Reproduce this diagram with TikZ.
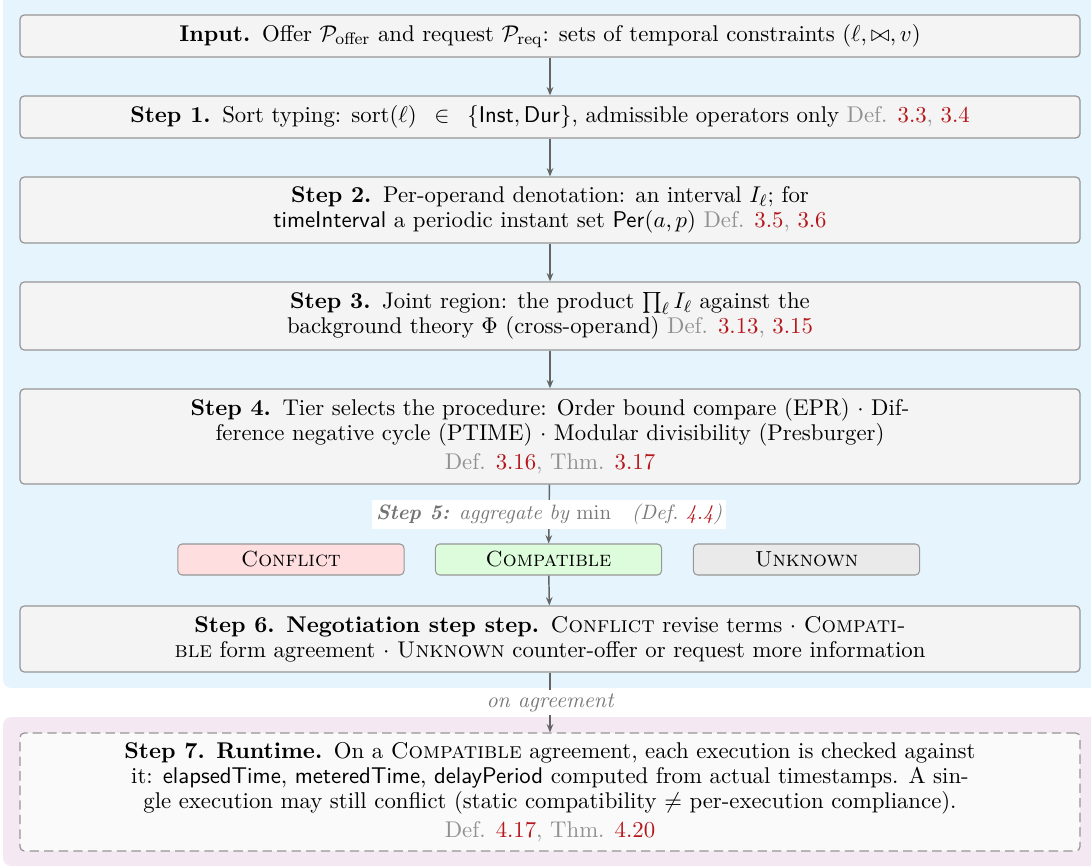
\documentclass[tikz,border=0pt]{standalone}
\usetikzlibrary{arrows.meta}
\definecolor{bgblue}{RGB}{230,245,253}
\definecolor{bgpurple}{RGB}{244,232,243}
\definecolor{boxfill}{RGB}{244,244,244}
\definecolor{boxdraw}{RGB}{150,150,150}
\definecolor{refred}{RGB}{182,22,26}
\definecolor{refgray}{RGB}{145,145,145}
\definecolor{labgray}{RGB}{120,120,120}
\definecolor{arrcol}{RGB}{100,100,100}
\definecolor{cfill}{RGB}{255,222,224}
\definecolor{kfill}{RGB}{220,252,220}
\definecolor{ufill}{RGB}{234,234,234}
\definecolor{rtfill}{RGB}{250,250,250}
\newcommand{\rref}[1]{\textcolor{refred}{#1}}
\newcommand{\gtx}[1]{\textcolor{refgray}{#1}}
\begin{document}
\begin{tikzpicture}[x=0.4808pt,y=-0.4808pt,
  stepbox/.style={draw=boxdraw, fill=boxfill, rounded corners=2pt, line width=0.6pt, minimum width=509.6pt, align=center, inner sep=2pt, font=\fontsize{10.95}{12}\selectfont},
  resbox/.style={draw=boxdraw, rounded corners=2pt, line width=0.5pt, minimum width=108.7pt, minimum height=14.9pt, inner sep=1pt, font=\fontsize{10.5}{12}\selectfont},
  arr/.style={draw=arrcol, line width=0.7pt, -{Stealth[length=4pt,width=3.2pt]}},
  lab/.style={fill=white, inner sep=1.5pt, text=labgray},
]
\useasboundingbox (0,0) rectangle (1091,867);
\clip (0,0) rectangle (1091,867);
\fill[bgblue, rounded corners=4pt] (3,-20) rectangle (1120,688);
\fill[bgpurple, rounded corners=4pt] (3,717) rectangle (1120,866);

\node[stepbox, minimum height=20.2pt] (in) at (550,36)
  {\textbf{Input. }Offer $\mathcal{P}_{\mathrm{offer}}$ and request $\mathcal{P}_{\mathrm{req}}$: sets of temporal constraints $(\ell,\bowtie,v)$};
\node[stepbox, minimum height=20.2pt] (s1) at (550,117)
  {\textbf{Step 1. }Sort typing: $\mathrm{sort}(\ell)\enspace\in\enspace\{\mathsf{Inst},\mathsf{Dur}\}$, admissible operators only \gtx{Def.} \rref{3.3}\gtx{,} \rref{3.4}};
\node[stepbox, minimum height=31.7pt] (s2) at (550,210)
  {\textbf{Step 2. }Per-operand denotation: an interval $I_\ell$; for\\
   \textsf{timeInterval} a periodic instant set $\mathsf{Per}(a,p)$ \gtx{Def.} \rref{3.5}\gtx{,} \rref{3.6}};
\node[stepbox, minimum height=32.7pt] (s3) at (550,316)
  {\textbf{Step 3. }Joint region: the product $\prod_\ell I_\ell$ against the\\
   background theory $\Phi$ (cross-operand) \gtx{Def.} \rref{3.13}\gtx{,} \rref{3.15}};
\node[stepbox, minimum height=45.7pt] (s4) at (550,436.5)
  {\textbf{Step 4. }Tier selects the procedure: Order bound compare (EPR) $\cdot$ Dif-\\
   ference negative cycle (PTIME) $\cdot$ Modular divisibility (Presburger)\\[2pt]
   \gtx{Def.} \rref{3.16}\gtx{, Thm.} \rref{3.17}};

\node[resbox, fill=cfill] (conf) at (291,559.5) {\textsc{Conflict}};
\node[resbox, fill=kfill] (comp) at (548.5,559.5) {\textsc{Compatible}};
\node[resbox, fill=ufill] (unk) at (806.5,559.5) {\textsc{Unknown}};

\node[stepbox, minimum height=31.7pt] (s6) at (550,639)
  {\textbf{Step 6. Negotiation step step. }\textsc{Conflict} revise terms $\cdot$ \textsc{Compati-}\\
   \textsc{ble} form agreement $\cdot$ \textsc{Unknown} counter-offer or request more information};
\node[stepbox, fill=rtfill, dash pattern=on 4.5pt off 2.5pt, minimum height=56.7pt] (s7) at (550,792)
  {\textbf{Step 7. Runtime. }On a \textsc{Compatible} agreement, each execution is checked against\\
   it: \textsf{elapsedTime}, \textsf{meteredTime}, \textsf{delayPeriod} computed from actual timestamps. A sin-\\
   gle execution may still conflict (static compatibility $\neq$ per-execution compliance).\\[2pt]
   \gtx{Def.} \rref{4.17}\gtx{, Thm.} \rref{4.20}};

\draw[arr] (in) -- (s1);
\draw[arr] (s1) -- (s2);
\draw[arr] (s2) -- (s3);
\draw[arr] (s3) -- (s4);
\draw[arr] (s4) -- node[lab, inner sep=2pt, font=\itshape\fontsize{10}{12}\selectfont] (s5)
  {\textcolor{black!55}{\textbf{Step 5:}} aggregate by $\mathrm{min}$\quad(Def.\ \textcolor{refred}{4.4})} (comp);
\draw[arr] (comp) -- (s6);
\draw[arr] (s6) -- node[lab, font=\itshape\fontsize{10.5}{12}\selectfont] (agr) {on agreement} (s7);
\end{tikzpicture}
\end{document}
